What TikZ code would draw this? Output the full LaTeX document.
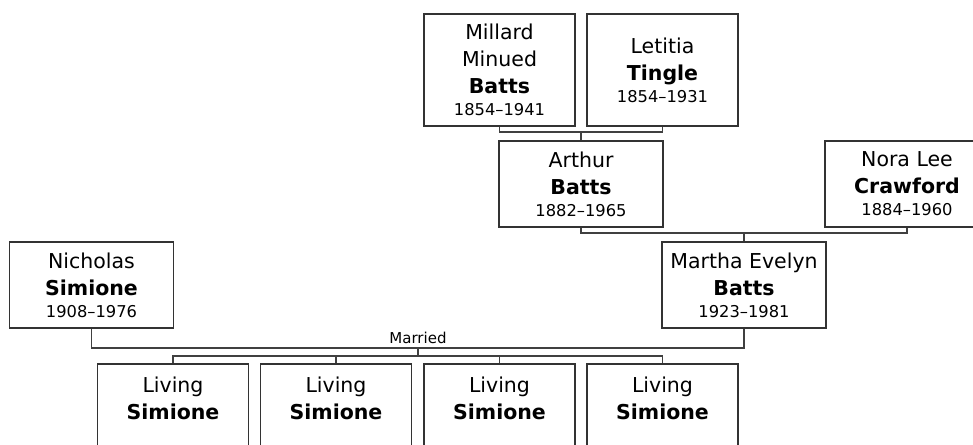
\documentclass[tikz,border=0pt]{standalone}
\usepackage{fontspec}
\setmainfont{DejaVu Sans}
\newcommand{\personbox}[4]{\parbox{#1}{\centering\fontsize{20.5}{27}\selectfont #2\\\textbf{#3}\par\fontsize{16.3}{22}\selectfont #4\par}}
\begin{document}
\begin{tikzpicture}[x=1pt,y=-1pt,
  pbox/.style={draw=black!80,line width=1.2pt,fill=white,inner sep=0pt,minimum height=86pt},
  wide/.style={pbox,minimum width=164pt},
  narrow/.style={pbox,minimum width=151pt},
  conn/.style={draw=black!75,line width=1.2pt},
  lbl/.style={font=\fontsize{15}{18}\selectfont,inner sep=0pt}]
\useasboundingbox (0,0) rectangle (973,444);
\clip (0,0) rectangle (973,444);
% grandparents
\node[narrow,minimum height=112pt] (mil) at (499.5,70) {\personbox{150pt}{Millard\\Minued}{Batts}{1854–1941}};
\node[narrow,minimum height=112pt] (let) at (662.5,70) {\personbox{150pt}{Letitia}{Tingle}{1854–1931}};
% parents
\node[wide] (art) at (581,184) {\personbox{160pt}{Arthur}{Batts}{1882–1965}};
\node[wide] (nora) at (907,184) {\personbox{160pt}{Nora Lee}{Crawford}{1884–1960}};
% couple
\node[wide] (mar) at (744,285) {\personbox{160pt}{Martha Evelyn}{Batts}{1923–1981}};
\node[wide] (nic) at (91.5,285) {\personbox{160pt}{Nicholas}{Simione}{1908–1976}};
% children
\node[narrow,minimum height=98pt] (k1) at (173,413) {\personbox{150pt}{Living}{Simione}{\strut}};
\node[narrow,minimum height=98pt] (k2) at (336,413) {\personbox{150pt}{Living}{Simione}{\strut}};
\node[narrow,minimum height=98pt] (k3) at (499.5,413) {\personbox{150pt}{Living}{Simione}{\strut}};
\node[narrow,minimum height=98pt] (k4) at (662.5,413) {\personbox{150pt}{Living}{Simione}{\strut}};
% connectors
\coordinate (j1) at (581,132);
\draw[conn] (mil.south) |- (j1) -| (let.south);
\draw[conn] (j1) -- (art.north);
\coordinate (j2) at (744,233);
\draw[conn] (art.south) |- (j2) -| (nora.south);
\draw[conn] (j2) -- (mar.north);
\coordinate (j3) at (418,348);
\draw[conn] (nic.south) |- (j3) -| (mar.south);
\node[lbl] (married) at (418,338) {Married};
\coordinate (j4) at (418,356);
\draw[conn] (j3) -- (j4);
\draw[conn] (k1.north) |- (j4) -| (k4.north);
\draw[conn] (k2.north) -- (k2.north |- j4);
\draw[conn] (k3.north) -- (k3.north |- j4);
\end{tikzpicture}
\end{document}
